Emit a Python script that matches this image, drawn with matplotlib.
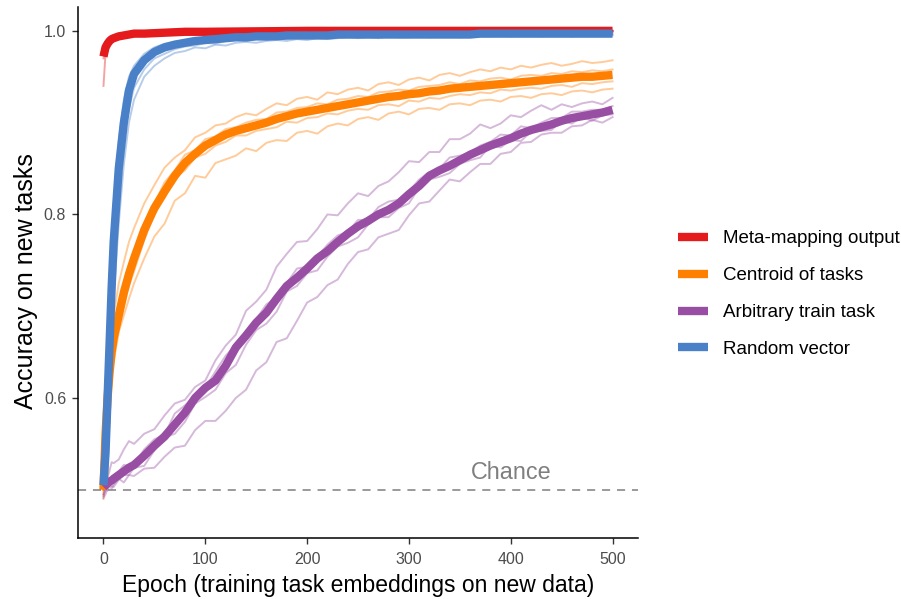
import matplotlib
matplotlib.use("Agg")
import matplotlib.pyplot as plt
from matplotlib.lines import Line2D

plt.rcParams['font.family'] = ['Liberation Sans', 'DejaVu Sans']

# epochs at which accuracy was logged
epochs = [0, 2, 4, 6, 8, 10, 15, 20, 25, 30,
          40, 50, 60, 70, 80, 90, 100, 110, 120, 130,
          140, 150, 160, 170, 180, 190, 200, 210, 220, 230,
          240, 250, 260, 270, 280, 290, 300, 310, 320, 330,
          340, 350, 360, 370, 380, 390, 400, 410, 420, 430,
          440, 450, 460, 470, 480, 490, 500]
red_epochs = [0, 2, 4, 6, 8, 10, 15, 20, 30, 40, 60, 80, 100, 150, 200, 300, 400, 500]

# Meta-mapping output
meta_mean = [0.972, 0.982, 0.986, 0.989, 0.991, 0.992, 0.994, 0.995, 0.997, 0.997,
             0.998, 0.999, 0.999, 0.9995, 1.0, 1.0, 1.0, 1.0]
meta_runs = [
    [0.940, 0.975, 0.984, 0.988, 0.990, 0.992, 0.994, 0.995, 0.996, 0.997, 0.998, 0.999, 0.999, 1.0, 1.0, 1.0, 1.0, 1.0],
    [0.975, 0.985, 0.988, 0.991, 0.992, 0.994, 0.995, 0.997, 0.998, 0.998, 0.999, 0.999, 1.0, 1.0, 1.0, 1.0, 1.0, 1.0],
    [0.978, 0.988, 0.991, 0.993, 0.994, 0.995, 0.996, 0.997, 0.998, 0.999, 0.999, 1.0, 1.0, 1.0, 1.0, 1.0, 1.0, 1.0],
    [0.970, 0.980, 0.983, 0.986, 0.989, 0.990, 0.992, 0.994, 0.996, 0.997, 0.998, 0.998, 0.999, 0.999, 1.0, 1.0, 1.0, 1.0],
]

# Centroid of tasks
centroid_mean = [0.500, 0.560, 0.600, 0.628, 0.650, 0.665, 0.690, 0.715, 0.735, 0.752,
                 0.783, 0.807, 0.825, 0.842, 0.856, 0.866, 0.875, 0.881, 0.887, 0.891,
                 0.894, 0.897, 0.900, 0.904, 0.907, 0.910, 0.912, 0.914, 0.916, 0.918,
                 0.920, 0.922, 0.924, 0.926, 0.928, 0.929, 0.931, 0.932, 0.934, 0.935,
                 0.937, 0.938, 0.939, 0.940, 0.941, 0.942, 0.943, 0.944, 0.945, 0.946,
                 0.947, 0.948, 0.949, 0.950, 0.950, 0.951, 0.952]
centroid_runs = [
    [0.500, 0.575, 0.625, 0.650, 0.680, 0.690, 0.725, 0.748, 0.770, 0.785,
     0.812, 0.832, 0.851, 0.862, 0.870, 0.884, 0.889, 0.897, 0.899, 0.906,
     0.910, 0.908, 0.915, 0.921, 0.919, 0.926, 0.928, 0.925, 0.933, 0.931,
     0.936, 0.938, 0.935, 0.942, 0.944, 0.941, 0.947, 0.949, 0.946, 0.952,
     0.954, 0.951, 0.955, 0.958, 0.956, 0.960, 0.958, 0.962, 0.960, 0.963,
     0.965, 0.962, 0.964, 0.967, 0.965, 0.966, 0.968],
    [0.500, 0.560, 0.605, 0.632, 0.655, 0.668, 0.700, 0.722, 0.745, 0.760,
     0.790, 0.812, 0.835, 0.848, 0.865, 0.870, 0.882, 0.885, 0.893, 0.895,
     0.900, 0.903, 0.904, 0.911, 0.912, 0.916, 0.917, 0.921, 0.920, 0.925,
     0.926, 0.929, 0.928, 0.933, 0.934, 0.936, 0.935, 0.939, 0.940, 0.941,
     0.944, 0.942, 0.946, 0.945, 0.948, 0.949, 0.947, 0.951, 0.952, 0.951,
     0.954, 0.953, 0.956, 0.955, 0.957, 0.956, 0.958],
    [0.495, 0.548, 0.585, 0.612, 0.635, 0.650, 0.678, 0.700, 0.722, 0.738,
     0.772, 0.800, 0.818, 0.840, 0.848, 0.862, 0.866, 0.875, 0.879, 0.886,
     0.886, 0.891, 0.893, 0.895, 0.901, 0.900, 0.905, 0.906, 0.910, 0.909,
     0.913, 0.915, 0.914, 0.919, 0.920, 0.918, 0.924, 0.923, 0.927, 0.926,
     0.929, 0.931, 0.930, 0.933, 0.932, 0.936, 0.935, 0.937, 0.938, 0.937,
     0.940, 0.941, 0.939, 0.943, 0.942, 0.944, 0.945],
    [0.490, 0.545, 0.580, 0.605, 0.625, 0.640, 0.672, 0.690, 0.708, 0.725,
     0.752, 0.776, 0.790, 0.815, 0.823, 0.842, 0.840, 0.856, 0.860, 0.864,
     0.872, 0.869, 0.878, 0.881, 0.880, 0.889, 0.891, 0.888, 0.896, 0.899,
     0.897, 0.904, 0.906, 0.903, 0.910, 0.912, 0.909, 0.915, 0.916, 0.914,
     0.920, 0.921, 0.919, 0.924, 0.925, 0.923, 0.928, 0.929, 0.927, 0.931,
     0.932, 0.930, 0.934, 0.935, 0.933, 0.936, 0.937],
]

# Arbitrary train task
arbitrary_mean = [0.503, 0.505, 0.507, 0.509, 0.510, 0.512, 0.516, 0.520, 0.524, 0.527,
                  0.537, 0.548, 0.558, 0.571, 0.584, 0.600, 0.611, 0.619, 0.635, 0.655,
                  0.668, 0.682, 0.693, 0.708, 0.722, 0.731, 0.741, 0.752, 0.760, 0.770,
                  0.779, 0.787, 0.793, 0.800, 0.805, 0.812, 0.822, 0.831, 0.842, 0.848,
                  0.853, 0.859, 0.865, 0.870, 0.875, 0.879, 0.883, 0.888, 0.892, 0.895,
                  0.898, 0.902, 0.905, 0.907, 0.909, 0.911, 0.914]
arbitrary_runs = [
    [0.500, 0.511, 0.513, 0.521, 0.530, 0.529, 0.533, 0.544, 0.553, 0.550,
     0.561, 0.566, 0.581, 0.594, 0.598, 0.612, 0.619, 0.641, 0.657, 0.669,
     0.695, 0.705, 0.718, 0.743, 0.757, 0.770, 0.771, 0.784, 0.800, 0.799,
     0.812, 0.823, 0.820, 0.831, 0.836, 0.846, 0.858, 0.857, 0.868, 0.868,
     0.882, 0.882, 0.888, 0.898, 0.894, 0.899, 0.908, 0.906, 0.913, 0.919,
     0.914, 0.920, 0.917, 0.921, 0.923, 0.920, 0.927],
    [0.493, 0.501, 0.509, 0.509, 0.508, 0.516, 0.520, 0.527, 0.526, 0.527,
     0.544, 0.555, 0.560, 0.583, 0.592, 0.602, 0.611, 0.629, 0.646, 0.658,
     0.669, 0.686, 0.702, 0.709, 0.725, 0.741, 0.743, 0.754, 0.767, 0.777,
     0.781, 0.794, 0.794, 0.808, 0.814, 0.816, 0.825, 0.838, 0.846, 0.850,
     0.862, 0.864, 0.867, 0.875, 0.879, 0.887, 0.886, 0.896, 0.894, 0.900,
     0.905, 0.905, 0.912, 0.912, 0.914, 0.914, 0.918],
    [0.491, 0.495, 0.502, 0.507, 0.504, 0.503, 0.511, 0.516, 0.516, 0.524,
     0.526, 0.543, 0.557, 0.561, 0.574, 0.594, 0.601, 0.609, 0.627, 0.636,
     0.658, 0.674, 0.681, 0.694, 0.716, 0.722, 0.736, 0.739, 0.754, 0.765,
     0.769, 0.775, 0.789, 0.797, 0.797, 0.807, 0.812, 0.829, 0.838, 0.841,
     0.845, 0.855, 0.859, 0.862, 0.875, 0.873, 0.881, 0.880, 0.890, 0.891,
     0.892, 0.902, 0.899, 0.906, 0.902, 0.908, 0.909],
    [0.495, 0.500, 0.499, 0.505, 0.501, 0.506, 0.512, 0.508, 0.516, 0.515,
     0.523, 0.524, 0.536, 0.546, 0.548, 0.565, 0.575, 0.575, 0.586, 0.600,
     0.609, 0.630, 0.639, 0.661, 0.665, 0.684, 0.704, 0.710, 0.723, 0.729,
     0.746, 0.759, 0.762, 0.775, 0.779, 0.783, 0.799, 0.812, 0.814, 0.826,
     0.838, 0.836, 0.846, 0.855, 0.855, 0.866, 0.868, 0.878, 0.879, 0.887,
     0.889, 0.889, 0.896, 0.897, 0.903, 0.900, 0.906],
]

# Random vector
random_mean = [0.505, 0.540, 0.600, 0.660, 0.720, 0.770, 0.850, 0.900, 0.935, 0.953,
               0.968, 0.977, 0.982, 0.985, 0.987, 0.989, 0.990, 0.991, 0.992, 0.993,
               0.993, 0.994, 0.994, 0.994, 0.995, 0.995, 0.995, 0.995, 0.995, 0.996,
               0.996, 0.996, 0.996, 0.996, 0.996, 0.996, 0.996, 0.996, 0.996, 0.996,
               0.996, 0.996, 0.996, 0.997, 0.997, 0.997, 0.997, 0.997, 0.997, 0.997,
               0.997, 0.997, 0.997, 0.997, 0.997, 0.997, 0.997]
random_runs = [
    [0.505, 0.560, 0.630, 0.700, 0.760, 0.810, 0.880, 0.925, 0.950, 0.962,
     0.975, 0.982, 0.986, 0.988, 0.990, 0.991, 0.992, 0.993, 0.994, 0.994,
     0.995, 0.995, 0.996, 0.995, 0.996, 0.996, 0.997, 0.996, 0.997, 0.997,
     0.997, 0.998, 0.997, 0.998, 0.998, 0.997, 0.998, 0.998, 0.998, 0.998,
     0.998, 0.999, 0.998, 0.998, 0.999, 0.998, 0.999, 0.999, 0.998, 0.999,
     0.999, 0.999, 0.998, 0.999, 0.999, 0.999, 0.999],
    [0.505, 0.530, 0.580, 0.630, 0.690, 0.740, 0.825, 0.880, 0.915, 0.938,
     0.958, 0.970, 0.975, 0.980, 0.983, 0.984, 0.987, 0.986, 0.989, 0.990,
     0.989, 0.991, 0.990, 0.992, 0.991, 0.993, 0.992, 0.993, 0.994, 0.993,
     0.994, 0.993, 0.995, 0.994, 0.994, 0.995, 0.994, 0.995, 0.995, 0.994,
     0.995, 0.996, 0.995, 0.995, 0.996, 0.995, 0.996, 0.996, 0.995, 0.996,
     0.996, 0.995, 0.996, 0.996, 0.997, 0.996, 0.996],
    [0.505, 0.525, 0.565, 0.610, 0.660, 0.710, 0.790, 0.855, 0.900, 0.925,
     0.950, 0.962, 0.970, 0.976, 0.978, 0.982, 0.981, 0.985, 0.984, 0.987,
     0.988, 0.987, 0.989, 0.990, 0.989, 0.991, 0.990, 0.992, 0.991, 0.992,
     0.993, 0.992, 0.993, 0.992, 0.994, 0.993, 0.993, 0.994, 0.993, 0.994,
     0.994, 0.993, 0.995, 0.994, 0.994, 0.995, 0.994, 0.995, 0.995, 0.994,
     0.995, 0.995, 0.994, 0.995, 0.995, 0.996, 0.995],
    [0.505, 0.545, 0.610, 0.675, 0.730, 0.775, 0.845, 0.895, 0.930, 0.950,
     0.966, 0.976, 0.981, 0.985, 0.986, 0.988, 0.990, 0.990, 0.991, 0.992,
     0.993, 0.993, 0.993, 0.994, 0.994, 0.995, 0.994, 0.995, 0.995, 0.996,
     0.995, 0.996, 0.996, 0.996, 0.995, 0.996, 0.996, 0.997, 0.996, 0.996,
     0.997, 0.996, 0.997, 0.997, 0.997, 0.996, 0.997, 0.997, 0.997, 0.998,
     0.997, 0.997, 0.998, 0.997, 0.998, 0.997, 0.998],
]

labels = ['Meta-mapping output', 'Centroid of tasks', 'Arbitrary train task', 'Random vector']
colors = ['#E41A1C', '#FF7F00', '#984EA3', '#4A80C8']
chance = 0.5

series = [
    (red_epochs, meta_mean, meta_runs),
    (epochs, centroid_mean, centroid_runs),
    (epochs, arbitrary_mean, arbitrary_runs),
    (epochs, random_mean, random_runs),
]

fig = plt.figure(figsize=(9.01, 5.99), dpi=100)
ax = fig.add_axes([0.0866, 0.1018, 0.6215, 0.8865])

# individual runs first, then the averages on top
for (x, _, runs), c in zip(series, colors):
    for r in runs:
        ax.plot(x, r, color=c, lw=1.4, alpha=0.4, solid_joinstyle='round')
for (x, m, _), c in zip(series, colors):
    ax.plot(x, m, color=c, lw=6, solid_capstyle='butt', solid_joinstyle='round')

ax.axhline(chance, color='#7F7F7F', lw=1.1, dashes=(5.3, 4.5))
ax.text(400, 0.519, 'Chance', color='#7F7F7F', fontsize=16.8, ha='center', va='center')

ax.set_xlim(-25, 525)
ax.set_ylim(0.4474, 1.026)
ax.set_xticks([0, 100, 200, 300, 400, 500])
ax.set_yticks([0.6, 0.8, 1.0])
ax.set_yticklabels(['0.6', '0.8', '1.0'])
for s in ['top', 'right']:
    ax.spines[s].set_visible(False)
for s in ['left', 'bottom']:
    ax.spines[s].set_linewidth(1.1)
ax.tick_params(length=4, width=1, color='#333333', labelcolor='#4D4D4D', labelsize=11.5)
ax.tick_params(axis='x', pad=6)
ax.tick_params(axis='y', pad=4.5)
ax.set_xlabel('Epoch (training task embeddings on new data)', fontsize=16.5, labelpad=5)
ax.set_ylabel('Accuracy on new tasks', fontsize=18)
ax.yaxis.set_label_coords(-0.072, 0.484)

handles = [Line2D([], [], color=c, lw=6, solid_capstyle='butt') for c in colors]
fig.legend(handles, labels, loc='center left', bbox_to_anchor=(0.7525, 0.509),
           frameon=False, fontsize=13.5, handlelength=1.6, handletextpad=0.8,
           labelspacing=1.05, borderpad=0, borderaxespad=0)

fig.savefig('out.png', dpi=100)
